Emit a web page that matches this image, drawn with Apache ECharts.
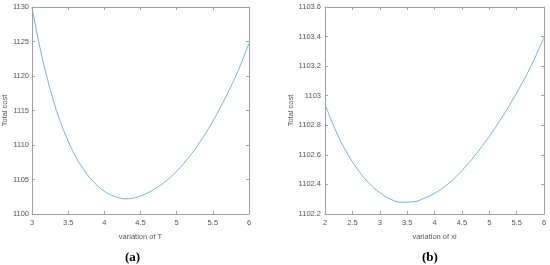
<!DOCTYPE html>
<html>
<head>
<meta charset="utf-8">
<script src="https://cdn.jsdelivr.net/npm/echarts@6/dist/echarts.min.js"></script>
<style>
 html,body{margin:0;padding:0;background:#fff;}
 #main{width:550px;height:265px;}
</style>
</head>
<body>
<div id="main"></div>
<script>
// panel (a): total cost vs T
var tValues = [3.0,3.1,3.2,3.3,3.4,3.5,3.6,3.7,3.8,3.9,4.0,4.1,4.2,4.3,4.4,4.5,4.6,4.7,4.8,4.9,5.0,5.1,5.2,5.3,5.4,5.5,5.6,5.7,5.8,5.9,6.0];
var costT = [1129.9,1124.6,1120.1,1116.3,1113.15,1110.55,1108.4,1106.65,1105.25,1104.15,1103.3,1102.7,1102.35,1102.2,1102.3,1102.6,1103.05,1103.65,1104.35,1105.2,1106.2,1107.35,1108.65,1110.1,1111.7,1113.45,1115.35,1117.4,1119.6,1122.05,1124.75];

// panel (b): total cost vs xi
var xiValues = [2.0,2.2,2.4,2.6,2.8,3.0,3.2,3.4,3.6,3.8,4.0,4.2,4.4,4.6,4.8,5.0,5.2,5.4,5.6,5.8,6.0];
var costXi = [1102.945,1102.76,1102.615,1102.5,1102.41,1102.345,1102.3,1102.28,1102.282,1102.305,1102.34,1102.39,1102.455,1102.535,1102.625,1102.725,1102.835,1102.955,1103.085,1103.23,1103.395];

function pairs(xs, ys){
    var out = [];
    for (var i = 0; i < xs.length; i++) out.push([xs[i], ys[i]]);
    return out;
}

var chart = echarts.init(document.getElementById('main'));

var lineCol = '#a0a0a0';
var txtCol = '#555';
var fnt = 'Liberation Sans';

function plain(v){
    return String(parseFloat(v.toFixed(2)));
}

function xAx(grid, min, max, name, top){
    return {
        type: 'value', gridIndex: grid, min: min, max: max, interval: 0.5,
        position: top ? 'top' : 'bottom',
        name: top ? '' : name, nameLocation: 'middle', nameGap: 19,
        nameTextStyle: {color: txtCol, fontSize: 7.5, fontFamily: fnt},
        axisLine: {show: true, onZero: false, lineStyle: {color: lineCol, width: 1}},
        axisTick: {show: true, inside: true, length: 3, lineStyle: {color: lineCol}},
        axisLabel: {show: !top, color: txtCol, fontSize: 7.5, fontFamily: fnt, margin: 5, formatter: plain},
        splitLine: {show: false}
    };
}
function yAx(grid, min, max, interval, gap, margin, right){
    return {
        type: 'value', gridIndex: grid, min: min, max: max, interval: interval,
        position: right ? 'right' : 'left',
        name: right ? '' : 'Total cost', nameLocation: 'middle', nameGap: gap,
        nameTextStyle: {color: txtCol, fontSize: 7.5, fontFamily: fnt},
        axisLine: {show: true, onZero: false, lineStyle: {color: lineCol, width: 1}},
        axisTick: {show: true, inside: true, length: 3, lineStyle: {color: lineCol}},
        axisLabel: {show: !right, color: txtCol, fontSize: 7.5, fontFamily: fnt, margin: margin, formatter: plain},
        splitLine: {show: false}
    };
}

var option = {
    backgroundColor: '#fff',
    animation: false,
    grid: [
        {left: 29, right: 301, top: 7, bottom: 51},
        {left: 325, right: 6, top: 7, bottom: 51}
    ],
    xAxis: [
        xAx(0, 3, 6, 'variation of T', false),
        xAx(0, 3, 6, '', true),
        xAx(1, 2, 6, 'variation of xi', false),
        xAx(1, 2, 6, '', true)
    ],
    yAxis: [
        yAx(0, 1100, 1130, 5, 19, 3, false),
        yAx(0, 1100, 1130, 5, 19, 3, true),
        yAx(1, 1102.2, 1103.6, 0.2, 24, 4, false),
        yAx(1, 1102.2, 1103.6, 0.2, 24, 4, true)
    ],
    graphic: [
        {type: 'text', left: 125, top: 251, style: {text: '(a)', font: 'bold 13px "Liberation Serif"', fill: '#000'}},
        {type: 'text', left: 422, top: 251, style: {text: '(b)', font: 'bold 13px "Liberation Serif"', fill: '#000'}}
    ],
    series: [
        {
            type: 'line', xAxisIndex: 0, yAxisIndex: 0, smooth: true,
            showSymbol: false, lineStyle: {color: '#78aed4', width: 1},
            data: pairs(tValues, costT)
        },
        {
            type: 'line', xAxisIndex: 2, yAxisIndex: 2, smooth: true,
            showSymbol: false, lineStyle: {color: '#78aed4', width: 1},
            data: pairs(xiValues, costXi)
        }
    ]
};
chart.setOption(option);
</script>
</body>
</html>
